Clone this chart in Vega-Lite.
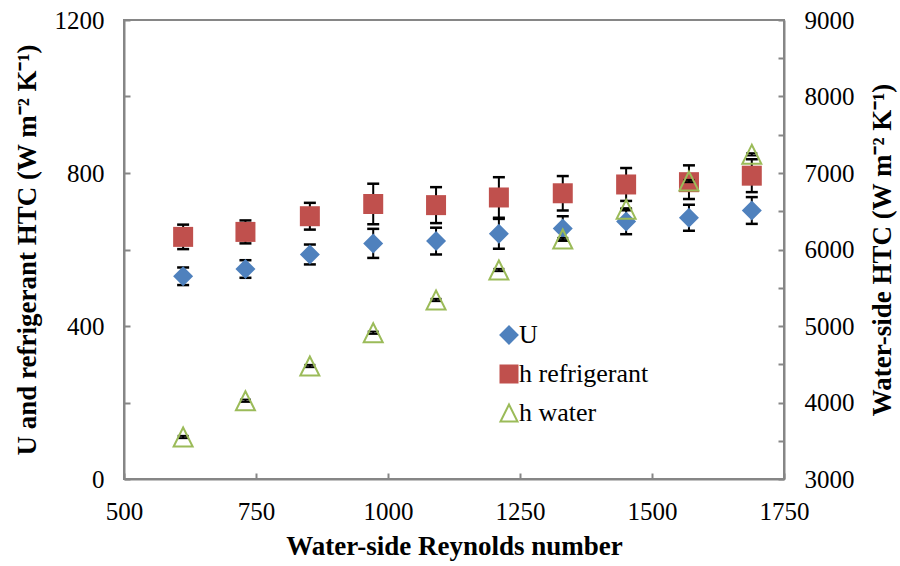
{
  "$schema": "https://vega.github.io/schema/vega-lite/v6.json",
  "width": 660,
  "height": 459,
  "autosize": {"type": "none"},
  "padding": {"left": 124, "top": 20, "right": 116, "bottom": 87},
  "background": "white",
  "datasets": {
    "pts": [
      {"re": 612, "series": "U", "v": 530, "lo": 507, "hi": 553},
      {"re": 730, "series": "U", "v": 549, "lo": 526, "hi": 572},
      {"re": 852, "series": "U", "v": 587, "lo": 561, "hi": 613},
      {"re": 972, "series": "U", "v": 616, "lo": 578, "hi": 654},
      {"re": 1091, "series": "U", "v": 622, "lo": 587, "hi": 657},
      {"re": 1210, "series": "U", "v": 641, "lo": 602, "hi": 680},
      {"re": 1331, "series": "U", "v": 655, "lo": 623, "hi": 687},
      {"re": 1451, "series": "U", "v": 673, "lo": 640, "hi": 706},
      {"re": 1570, "series": "U", "v": 683, "lo": 649, "hi": 717},
      {"re": 1689, "series": "U", "v": 702, "lo": 667, "hi": 737},
      {"re": 612, "series": "h refrigerant", "v": 633, "lo": 601, "hi": 665},
      {"re": 730, "series": "h refrigerant", "v": 646, "lo": 616, "hi": 676},
      {"re": 852, "series": "h refrigerant", "v": 687, "lo": 652, "hi": 722},
      {"re": 972, "series": "h refrigerant", "v": 719, "lo": 666, "hi": 772},
      {"re": 1091, "series": "h refrigerant", "v": 716, "lo": 669, "hi": 763},
      {"re": 1210, "series": "h refrigerant", "v": 736, "lo": 683, "hi": 789},
      {"re": 1331, "series": "h refrigerant", "v": 747, "lo": 702, "hi": 792},
      {"re": 1451, "series": "h refrigerant", "v": 770, "lo": 727, "hi": 813},
      {"re": 1570, "series": "h refrigerant", "v": 776, "lo": 732, "hi": 820},
      {"re": 1689, "series": "h refrigerant", "v": 793, "lo": 750, "hi": 836},
      {"re": 612, "series": "h water", "v": 3549, "lo": 3534, "hi": 3564},
      {"re": 730, "series": "h water", "v": 4023, "lo": 4008, "hi": 4038},
      {"re": 852, "series": "h water", "v": 4477, "lo": 4462, "hi": 4492},
      {"re": 972, "series": "h water", "v": 4912, "lo": 4897, "hi": 4927},
      {"re": 1091, "series": "h water", "v": 5340, "lo": 5325, "hi": 5355},
      {"re": 1210, "series": "h water", "v": 5732, "lo": 5717, "hi": 5747},
      {"re": 1331, "series": "h water", "v": 6137, "lo": 6122, "hi": 6152},
      {"re": 1451, "series": "h water", "v": 6525, "lo": 6510, "hi": 6540},
      {"re": 1570, "series": "h water", "v": 6895, "lo": 6880, "hi": 6910},
      {"re": 1689, "series": "h water", "v": 7244, "lo": 7229, "hi": 7259}
    ]
  },
  "data": {"name": "pts"},
  "encoding": {
    "x": {
      "field": "re",
      "type": "quantitative",
      "title": "Water-side Reynolds number",
      "scale": {"domain": [500, 1750], "nice": false, "zero": false},
      "axis": {"values": [500, 750, 1000, 1250, 1500, 1750], "format": "d", "labelFlush": false, "labelOverlap": false, "titlePadding": 9}
    }
  },
  "layer": [
    {
      "transform": [{"filter": "datum.series !== 'h water'"}],
      "encoding": {
        "y": {
          "field": "v",
          "type": "quantitative",
          "title": "U and refrigerant HTC (W m⁻² K⁻¹)",
          "scale": {"domain": [0, 1200], "nice": false, "zero": false},
          "axis": {
            "values": [0, 200, 400, 600, 800, 1000, 1200],
            "labelExpr": "datum.value % 400 === 0 ? datum.label : ''",
            "format": "d",
            "labelOverlap": false,
            "titlePadding": 13
          }
        }
      },
      "layer": [
        {
          "mark": {"type": "rule", "color": "black", "strokeWidth": 2},
          "encoding": {"y": {"field": "lo", "type": "quantitative", "title": "U and refrigerant HTC (W m⁻² K⁻¹)"}, "y2": {"field": "hi"}}
        },
        {
          "mark": {"type": "tick", "orient": "horizontal", "color": "black", "size": 12, "thickness": 2.5, "opacity": 1},
          "encoding": {"y": {"field": "lo", "type": "quantitative", "title": "U and refrigerant HTC (W m⁻² K⁻¹)"}}
        },
        {
          "mark": {"type": "tick", "orient": "horizontal", "color": "black", "size": 12, "thickness": 2.5, "opacity": 1},
          "encoding": {"y": {"field": "hi", "type": "quantitative", "title": "U and refrigerant HTC (W m⁻² K⁻¹)"}}
        },
        {
          "mark": {"type": "point", "filled": true, "size": 400, "opacity": 1, "strokeWidth": 0},
          "encoding": {
            "shape": {
              "field": "series",
              "type": "nominal",
              "title": null,
              "scale": {"domain": ["U", "h refrigerant", "h water"], "range": ["diamond", "square", "M0,-1L-1,1L1,1Z"]},
              "legend": {
                "orient": "none",
                "legendX": 372,
                "legendY": 302,
                "padding": 0,
                "symbolSize": 289,
                "symbolStrokeWidth": 2,
                "labelFontSize": 26,
                "labelFont": "Liberation Serif, Times New Roman, serif",
                "labelColor": "black",
                "labelOffset": -3,
                "rowPadding": 13,
                "labelLimit": 300
              }
            },
            "fill": {
              "field": "series",
              "type": "nominal",
              "title": null,
              "scale": {"domain": ["U", "h refrigerant", "h water"], "range": ["#4F81BD", "#C0504D", "transparent"]}
            }
          }
        }
      ]
    },
    {
      "transform": [{"filter": "datum.series === 'h water'"}],
      "encoding": {
        "y": {
          "field": "v",
          "type": "quantitative",
          "title": "Water-side HTC (W m⁻² K⁻¹)",
          "scale": {"domain": [3000, 9000], "nice": false, "zero": false},
          "axis": {
            "orient": "right",
            "values": [3000, 3500, 4000, 4500, 5000, 5500, 6000, 6500, 7000, 7500, 8000, 8500, 9000],
            "labelExpr": "datum.value % 1000 === 0 ? datum.label : ''",
            "format": "d",
            "labelOverlap": false,
            "titleAngle": 270,
            "titlePadding": 42
          }
        }
      },
      "layer": [
        {
          "mark": {"type": "rule", "color": "black", "strokeWidth": 2},
          "encoding": {"y": {"field": "lo", "type": "quantitative", "title": "Water-side HTC (W m⁻² K⁻¹)"}, "y2": {"field": "hi"}}
        },
        {
          "mark": {"type": "tick", "orient": "horizontal", "color": "black", "size": 11, "thickness": 2, "opacity": 1},
          "encoding": {"y": {"field": "lo", "type": "quantitative", "title": "Water-side HTC (W m⁻² K⁻¹)"}}
        },
        {
          "mark": {"type": "tick", "orient": "horizontal", "color": "black", "size": 11, "thickness": 2, "opacity": 1},
          "encoding": {"y": {"field": "hi", "type": "quantitative", "title": "Water-side HTC (W m⁻² K⁻¹)"}}
        },
        {
          "mark": {"type": "point", "filled": false, "size": 361, "opacity": 1, "strokeWidth": 2},
          "encoding": {
            "shape": {
              "field": "series",
              "type": "nominal",
              "title": null,
              "scale": {"domain": ["U", "h refrigerant", "h water"], "range": ["diamond", "square", "M0,-1L-1,1L1,1Z"]}
            },
            "stroke": {
              "field": "series",
              "type": "nominal",
              "title": null,
              "scale": {"domain": ["U", "h refrigerant", "h water"], "range": ["#4F81BD", "#C0504D", "#9BBB59"]}
            }
          }
        }
      ]
    }
  ],
  "resolve": {"scale": {"y": "independent"}},
  "config": {
    "font": "Liberation Serif, Times New Roman, serif",
    "view": {"stroke": "#868686", "strokeWidth": 2},
    "legend": {"labelFont": "Liberation Serif, Times New Roman, serif"},
    "axis": {
      "grid": false,
      "domainColor": "#868686",
      "domainWidth": 2,
      "tickColor": "#868686",
      "tickWidth": 2,
      "tickSize": -6,
      "labelPadding": 26,
      "labelFont": "Liberation Serif, Times New Roman, serif",
      "labelFontSize": 25,
      "labelColor": "black",
      "titleFont": "Liberation Serif, Times New Roman, serif",
      "titleFontSize": 27,
      "titleFontWeight": "bold",
      "titleColor": "black"
    }
  }
}
